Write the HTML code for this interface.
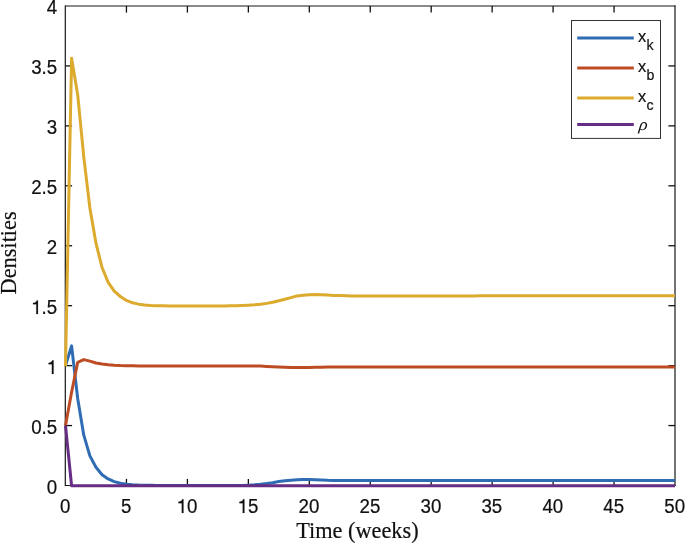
<!DOCTYPE html>
<html><head><meta charset="utf-8"><title>Densities</title>
<style>
html,body{margin:0;padding:0;background:#fff;}
body{width:685px;height:544px;overflow:hidden;}
#w{width:685px;height:544px;will-change:transform;}
svg{display:block;}
.t{font-family:"Liberation Sans",sans-serif;font-size:18.7px;fill:#111;stroke:#111;stroke-width:0.2px;}
.g1{fill:#111;stroke:#111;stroke-width:0.2px;}
.s{font-family:"Liberation Serif",serif;font-size:22.3px;fill:#111;stroke:#111;stroke-width:0.2px;}
.l{font-family:"Liberation Sans",sans-serif;font-size:16.5px;fill:#111;stroke:#111;stroke-width:0.2px;}
.sub{font-family:"Liberation Sans",sans-serif;font-size:14.2px;fill:#111;stroke:#111;stroke-width:0.2px;}
</style></head><body><div id="w">
<svg width="685" height="544" viewBox="0 0 685 544">
<rect x="0" y="0" width="685" height="544" fill="#ffffff"/>
<g stroke="#161616" stroke-width="1.2" fill="none">
<line x1="65.3" y1="5.5" x2="65.3" y2="486.0"/>
<line x1="675.0" y1="5.5" x2="675.0" y2="486.0"/>
<line x1="65.0" y1="6.0" x2="675.5" y2="6.0"/>
<line x1="65.0" y1="485.5" x2="675.5" y2="485.5"/>
</g>
<g stroke="#111" stroke-width="1.3" fill="none">
<line x1="126.45" y1="485.5" x2="126.45" y2="478.9"/><line x1="126.45" y1="6.0" x2="126.45" y2="12.6"/>
<line x1="187.40" y1="485.5" x2="187.40" y2="478.9"/><line x1="187.40" y1="6.0" x2="187.40" y2="12.6"/>
<line x1="248.35" y1="485.5" x2="248.35" y2="478.9"/><line x1="248.35" y1="6.0" x2="248.35" y2="12.6"/>
<line x1="309.30" y1="485.5" x2="309.30" y2="478.9"/><line x1="309.30" y1="6.0" x2="309.30" y2="12.6"/>
<line x1="370.25" y1="485.5" x2="370.25" y2="478.9"/><line x1="370.25" y1="6.0" x2="370.25" y2="12.6"/>
<line x1="431.20" y1="485.5" x2="431.20" y2="478.9"/><line x1="431.20" y1="6.0" x2="431.20" y2="12.6"/>
<line x1="492.15" y1="485.5" x2="492.15" y2="478.9"/><line x1="492.15" y1="6.0" x2="492.15" y2="12.6"/>
<line x1="553.10" y1="485.5" x2="553.10" y2="478.9"/><line x1="553.10" y1="6.0" x2="553.10" y2="12.6"/>
<line x1="614.05" y1="485.5" x2="614.05" y2="478.9"/><line x1="614.05" y1="6.0" x2="614.05" y2="12.6"/>
<line x1="65.5" y1="425.56" x2="72.1" y2="425.56"/><line x1="675.0" y1="425.56" x2="668.4" y2="425.56"/>
<line x1="65.5" y1="365.62" x2="72.1" y2="365.62"/><line x1="675.0" y1="365.62" x2="668.4" y2="365.62"/>
<line x1="65.5" y1="305.69" x2="72.1" y2="305.69"/><line x1="675.0" y1="305.69" x2="668.4" y2="305.69"/>
<line x1="65.5" y1="245.75" x2="72.1" y2="245.75"/><line x1="675.0" y1="245.75" x2="668.4" y2="245.75"/>
<line x1="65.5" y1="185.81" x2="72.1" y2="185.81"/><line x1="675.0" y1="185.81" x2="668.4" y2="185.81"/>
<line x1="65.5" y1="125.88" x2="72.1" y2="125.88"/><line x1="675.0" y1="125.88" x2="668.4" y2="125.88"/>
<line x1="65.5" y1="65.94" x2="72.1" y2="65.94"/><line x1="675.0" y1="65.94" x2="668.4" y2="65.94"/>
</g>
<g transform="translate(60.00 512.90) scale(1 1.07)"><text class="t" x="0.00" y="0">0</text></g>
<g transform="translate(120.95 512.90) scale(1 1.07)"><text class="t" x="0.00" y="0">5</text></g>
<g transform="translate(176.70 512.90) scale(1 1.07)"><path class="g1" d="M6.75 0.00L6.75 -12.76L5.55 -12.76Q5.09 -10.66 1.78 -10.31L1.78 -9.13L5.09 -9.13L5.09 0.00Z"/><text class="t" x="10.40" y="0">0</text></g>
<g transform="translate(237.65 512.90) scale(1 1.07)"><path class="g1" d="M6.75 0.00L6.75 -12.76L5.55 -12.76Q5.09 -10.66 1.78 -10.31L1.78 -9.13L5.09 -9.13L5.09 0.00Z"/><text class="t" x="10.40" y="0">5</text></g>
<g transform="translate(298.60 512.90) scale(1 1.07)"><text class="t" x="0.00" y="0">20</text></g>
<g transform="translate(359.55 512.90) scale(1 1.07)"><text class="t" x="0.00" y="0">25</text></g>
<g transform="translate(420.50 512.90) scale(1 1.07)"><text class="t" x="0.00" y="0">30</text></g>
<g transform="translate(481.45 512.90) scale(1 1.07)"><text class="t" x="0.00" y="0">35</text></g>
<g transform="translate(542.40 512.90) scale(1 1.07)"><text class="t" x="0.00" y="0">40</text></g>
<g transform="translate(603.35 512.90) scale(1 1.07)"><text class="t" x="0.00" y="0">45</text></g>
<g transform="translate(664.30 512.90) scale(1 1.07)"><text class="t" x="0.00" y="0">50</text></g>
<g transform="translate(46.80 493.85) scale(1 1.07)"><text class="t" x="0.00" y="0">0</text></g>
<g transform="translate(31.21 433.91) scale(1 1.07)"><text class="t" x="0.00" y="0">0.5</text></g>
<g transform="translate(46.80 373.98) scale(1 1.07)"><path class="g1" d="M6.75 0.00L6.75 -12.76L5.55 -12.76Q5.09 -10.66 1.78 -10.31L1.78 -9.13L5.09 -9.13L5.09 0.00Z"/></g>
<g transform="translate(31.21 314.04) scale(1 1.07)"><path class="g1" d="M6.75 0.00L6.75 -12.76L5.55 -12.76Q5.09 -10.66 1.78 -10.31L1.78 -9.13L5.09 -9.13L5.09 0.00Z"/><text class="t" x="10.40" y="0">.5</text></g>
<g transform="translate(46.80 254.10) scale(1 1.07)"><text class="t" x="0.00" y="0">2</text></g>
<g transform="translate(31.21 194.16) scale(1 1.07)"><text class="t" x="0.00" y="0">2.5</text></g>
<g transform="translate(46.80 134.22) scale(1 1.07)"><text class="t" x="0.00" y="0">3</text></g>
<g transform="translate(31.21 74.29) scale(1 1.07)"><text class="t" x="0.00" y="0">3.5</text></g>
<g transform="translate(46.80 13.55) scale(1 1.07)"><text class="t" x="0.00" y="0">4</text></g>
<text class="s" x="357.4" y="537.9" text-anchor="middle">Time (weeks)</text>
<text class="s" transform="translate(16.4 252.9) rotate(-90)" text-anchor="middle">Densities</text>
<clipPath id="c"><rect x="63.5" y="4" width="611.8" height="484.5"/></clipPath>
<g clip-path="url(#c)" fill="none" stroke-width="3.0" stroke-linejoin="round" stroke-linecap="butt">
<path stroke="#2f6cb3" d="M65.50 365.60 L71.59 345.90 L77.69 398.50 L83.78 435.20 L89.88 455.90 L95.97 467.20 L102.07 474.70 L108.16 478.90 L114.26 481.60 L120.35 483.30 L126.45 484.20 L132.55 484.75 L138.64 485.10 L144.74 485.30 L150.83 485.35 L156.93 485.39 L163.02 485.40 L169.12 485.40 L175.21 485.40 L181.31 485.40 L187.40 485.40 L193.50 485.40 L199.59 485.40 L205.69 485.40 L211.78 485.40 L217.88 485.40 L223.97 485.40 L230.06 485.40 L236.16 485.40 L242.25 485.38 L248.35 485.14 L254.44 484.79 L260.54 484.26 L266.63 483.55 L272.73 482.68 L278.82 481.59 L284.92 480.75 L291.01 480.18 L297.11 479.82 L303.20 479.58 L309.30 479.55 L315.39 479.70 L321.49 479.97 L327.58 480.29 L333.68 480.42 L339.77 480.49 L345.87 480.50 L351.96 480.50 L358.06 480.50 L364.15 480.50 L370.25 480.50 L376.34 480.50 L382.44 480.50 L388.53 480.50 L394.63 480.50 L400.72 480.50 L406.82 480.50 L412.91 480.50 L419.01 480.50 L425.10 480.50 L431.20 480.50 L437.29 480.49 L443.39 480.49 L449.48 480.49 L455.58 480.49 L461.68 480.49 L467.77 480.49 L473.87 480.49 L479.96 480.49 L486.06 480.48 L492.15 480.48 L498.25 480.48 L504.34 480.48 L510.44 480.48 L516.53 480.48 L522.62 480.47 L528.72 480.47 L534.82 480.47 L540.91 480.47 L547.00 480.47 L553.10 480.46 L559.19 480.46 L565.29 480.46 L571.38 480.46 L577.48 480.45 L583.57 480.45 L589.67 480.45 L595.76 480.44 L601.86 480.44 L607.95 480.44 L614.05 480.43 L620.14 480.43 L626.24 480.43 L632.33 480.43 L638.43 480.42 L644.52 480.42 L650.62 480.41 L656.72 480.41 L662.81 480.41 L668.90 480.40 L675.00 480.40"/>
<path stroke="#bd4c24" d="M65.50 425.60 L71.59 392.20 L77.69 362.30 L83.78 359.60 L89.88 361.10 L95.97 363.00 L102.07 364.07 L108.16 364.82 L114.26 365.28 L120.35 365.59 L126.45 365.74 L132.55 365.83 L138.64 365.89 L144.74 365.90 L150.83 365.90 L156.93 365.90 L163.02 365.90 L169.12 365.90 L175.21 365.90 L181.31 365.90 L187.40 365.90 L193.50 365.90 L199.59 365.90 L205.69 365.90 L211.78 365.90 L217.88 365.90 L223.97 365.90 L230.06 365.90 L236.16 365.90 L242.25 365.90 L248.35 365.90 L254.44 365.91 L260.54 366.10 L266.63 366.42 L272.73 366.76 L278.82 367.02 L284.92 367.29 L291.01 367.52 L297.11 367.60 L303.20 367.55 L309.30 367.44 L315.39 367.32 L321.49 367.21 L327.58 367.07 L333.68 367.00 L339.77 367.00 L345.87 367.00 L351.96 367.00 L358.06 367.00 L364.15 367.00 L370.25 367.00 L376.34 367.00 L382.44 367.00 L388.53 367.00 L394.63 367.00 L400.72 367.00 L406.82 367.00 L412.91 367.00 L419.01 367.00 L425.10 367.00 L431.20 367.00 L437.29 367.00 L443.39 367.00 L449.48 367.00 L455.58 367.00 L461.68 367.00 L467.77 367.00 L473.87 367.00 L479.96 367.00 L486.06 367.00 L492.15 367.00 L498.25 367.00 L504.34 367.00 L510.44 367.00 L516.53 367.00 L522.62 367.00 L528.72 367.00 L534.82 367.00 L540.91 367.00 L547.00 367.00 L553.10 367.00 L559.19 367.00 L565.29 367.00 L571.38 367.00 L577.48 367.00 L583.57 367.00 L589.67 367.00 L595.76 367.00 L601.86 367.00 L607.95 367.00 L614.05 367.00 L620.14 367.00 L626.24 367.00 L632.33 367.00 L638.43 367.00 L644.52 367.00 L650.62 367.00 L656.72 367.00 L662.81 367.00 L668.90 367.00 L675.00 367.00"/>
<path stroke="#dcaa2d" d="M65.50 366.20 L71.59 58.20 L77.69 94.70 L83.78 156.80 L89.88 208.00 L95.97 243.20 L102.07 267.50 L108.16 282.40 L114.26 291.20 L120.35 296.50 L126.45 300.40 L132.55 302.80 L138.64 304.15 L144.74 304.95 L150.83 305.40 L156.93 305.65 L163.02 305.80 L169.12 305.90 L175.21 306.00 L181.31 306.00 L187.40 306.00 L193.50 306.00 L199.59 306.00 L205.69 306.00 L211.78 306.00 L217.88 305.99 L223.97 305.92 L230.06 305.80 L236.16 305.64 L242.25 305.45 L248.35 305.17 L254.44 304.79 L260.54 304.21 L266.63 303.38 L272.73 302.17 L278.82 300.74 L284.92 299.24 L291.01 297.63 L297.11 295.90 L303.20 295.14 L309.30 294.70 L315.39 294.56 L321.49 294.71 L327.58 295.09 L333.68 295.38 L339.77 295.59 L345.87 295.80 L351.96 295.93 L358.06 296.00 L364.15 296.00 L370.25 296.00 L376.34 296.00 L382.44 296.00 L388.53 296.00 L394.63 296.00 L400.72 296.00 L406.82 296.00 L412.91 295.99 L419.01 295.99 L425.10 295.98 L431.20 295.97 L437.29 295.96 L443.39 295.95 L449.48 295.93 L455.58 295.92 L461.68 295.91 L467.77 295.89 L473.87 295.88 L479.96 295.87 L486.06 295.86 L492.15 295.86 L498.25 295.85 L504.34 295.85 L510.44 295.84 L516.53 295.84 L522.62 295.84 L528.72 295.84 L534.82 295.83 L540.91 295.83 L547.00 295.83 L553.10 295.83 L559.19 295.82 L565.29 295.82 L571.38 295.82 L577.48 295.82 L583.57 295.82 L589.67 295.81 L595.76 295.81 L601.86 295.81 L607.95 295.81 L614.05 295.81 L620.14 295.81 L626.24 295.80 L632.33 295.80 L638.43 295.80 L644.52 295.80 L650.62 295.80 L656.72 295.80 L662.81 295.80 L668.90 295.80 L675.00 295.80"/>
<path stroke="#672c83" d="M65.50 425.60 L71.59 485.75 L77.69 485.75 L83.78 485.75 L89.88 485.75 L95.97 485.75 L102.07 485.75 L108.16 485.75 L114.26 485.75 L120.35 485.75 L126.45 485.75 L132.55 485.75 L138.64 485.75 L144.74 485.75 L150.83 485.75 L156.93 485.75 L163.02 485.75 L169.12 485.75 L175.21 485.75 L181.31 485.75 L187.40 485.75 L193.50 485.75 L199.59 485.75 L205.69 485.75 L211.78 485.75 L217.88 485.75 L223.97 485.75 L230.06 485.75 L236.16 485.75 L242.25 485.75 L248.35 485.75 L254.44 485.75 L260.54 485.75 L266.63 485.75 L272.73 485.75 L278.82 485.75 L284.92 485.75 L291.01 485.75 L297.11 485.75 L303.20 485.75 L309.30 485.75 L315.39 485.75 L321.49 485.75 L327.58 485.75 L333.68 485.75 L339.77 485.75 L345.87 485.75 L351.96 485.75 L358.06 485.75 L364.15 485.75 L370.25 485.75 L376.34 485.75 L382.44 485.75 L388.53 485.75 L394.63 485.75 L400.72 485.75 L406.82 485.75 L412.91 485.75 L419.01 485.75 L425.10 485.75 L431.20 485.75 L437.29 485.75 L443.39 485.75 L449.48 485.75 L455.58 485.75 L461.68 485.75 L467.77 485.75 L473.87 485.75 L479.96 485.75 L486.06 485.75 L492.15 485.75 L498.25 485.75 L504.34 485.75 L510.44 485.75 L516.53 485.75 L522.62 485.75 L528.72 485.75 L534.82 485.75 L540.91 485.75 L547.00 485.75 L553.10 485.75 L559.19 485.75 L565.29 485.75 L571.38 485.75 L577.48 485.75 L583.57 485.75 L589.67 485.75 L595.76 485.75 L601.86 485.75 L607.95 485.75 L614.05 485.75 L620.14 485.75 L626.24 485.75 L632.33 485.75 L638.43 485.75 L644.52 485.75 L650.62 485.75 L656.72 485.75 L662.81 485.75 L668.90 485.75 L675.00 485.75"/>
</g>
<rect x="571.5" y="20.5" width="89" height="117.9" fill="#fff" stroke="#333" stroke-width="1"/>
<line x1="577.2" y1="38.1" x2="633.8" y2="38.1" stroke="#2f6cb3" stroke-width="3.0"/>
<line x1="577.2" y1="68.1" x2="633.8" y2="68.1" stroke="#bd4c24" stroke-width="3.0"/>
<line x1="577.2" y1="98.1" x2="633.8" y2="98.1" stroke="#dcaa2d" stroke-width="3.0"/>
<line x1="577.2" y1="124.4" x2="633.8" y2="124.4" stroke="#672c83" stroke-width="3.0"/>
<text class="l" x="638" y="41.9">x</text><text class="sub" x="646.6" y="49.7">k</text>
<text class="l" x="638" y="71.9">x</text><text class="sub" x="646.6" y="79.7">b</text>
<text class="l" x="638" y="101.9">x</text><text class="sub" x="646.6" y="109.7">c</text>
<text class="l" transform="translate(638.6 130.2) scale(1.06 1) skewX(-6)" style="font-family:'Liberation Serif',serif;font-style:italic;font-size:17px;stroke:none">&#961;</text>
</svg>
</div></body></html>
